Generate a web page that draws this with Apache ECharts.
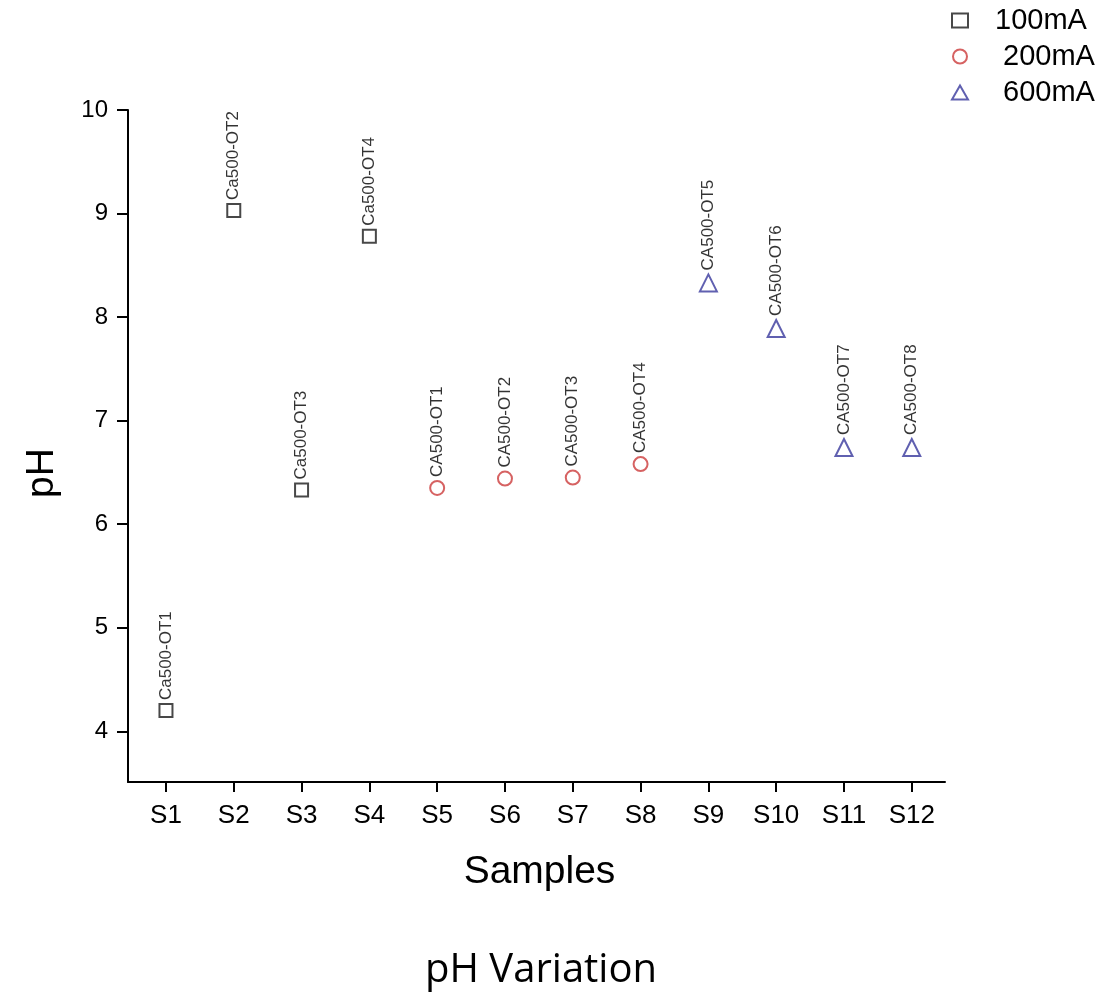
<!DOCTYPE html>
<html>
<head>
<meta charset="utf-8">
<script src="https://cdn.jsdelivr.net/npm/echarts@6/dist/echarts.min.js"></script>
<style>html,body{margin:0;padding:0;background:#fff;}#c{width:1117px;height:994px;}</style>
</head>
<body>
<div id="c"></div>
<script>
const categories = ['S1','S2','S3','S4','S5','S6','S7','S8','S9','S10','S11','S12'];
const yTicks = [4,5,6,7,8,9,10];
// [sample index (1-based), pH, label]
const s100 = [[1,4.20,'Ca500-OT1'],[2,9.03,'Ca500-OT2'],[3,6.33,'Ca500-OT3'],[4,8.78,'Ca500-OT4']];
const s200 = [[5,6.35,'CA500-OT1'],[6,6.44,'CA500-OT2'],[7,6.45,'CA500-OT3'],[8,6.58,'CA500-OT4']];
const s600 = [[9,8.33,'CA500-OT5'],[10,7.89,'CA500-OT6'],[11,6.74,'CA500-OT7'],[12,6.74,'CA500-OT8']];
const seriesNames = ['100mA','200mA','600mA'];

const font = 'Liberation Sans, Arial, sans-serif';
const chart = echarts.init(document.getElementById('c'));
function mk(name, data, symbol, size, color){
  return {
    name: name, type: 'scatter', symbol: symbol, symbolSize: size,
    itemStyle: {color: color, borderColor: color, borderWidth: 1.2},
    data: data.map(d => ({value: [d[0], d[1]], name: d[2]})),
    label: {
      show: true, position: 'top', rotate: 90, align: 'left', verticalAlign: 'middle',
      distance: 3, formatter: p => p.name, color: '#000', fontSize: 17, fontFamily: font
    }
  };
}
chart.setOption({
  animation: false,
  backgroundColor: '#fff',
  title: {
    text: 'pH Variation', left: 420, top: 946,
    textStyle: {fontSize: 40, fontWeight: 'normal', fontFamily: 'Open Sans, Noto Sans, sans-serif', color: '#000'}
  },
  legend: {
    orient: 'vertical', left: 946, top: 1, itemGap: 7, itemWidth: 16, itemHeight: 14,
    data: seriesNames,
    formatter: n => n === '100mA' ? n : ' ' + n,
    textStyle: {fontSize: 29, fontFamily: font, color: '#000', padding: [0,0,0,22]}
  },
  grid: {left: 128, top: 110, right: 172, bottom: 212},
  xAxis: {
    type: 'value', min: 0.44, max: 12.49,
    name: 'Samples', nameLocation: 'middle', nameGap: 71,
    nameTextStyle: {fontSize: 39, fontFamily: font, color: '#000', padding: [0,0,0,6]},
    splitLine: {show: false},
    axisLine: {lineStyle: {color: '#000', width: 2}},
    axisTick: {customValues: categories.map((c,i)=>i+1), length: 10, lineStyle: {color: '#000', width: 2}},
    axisLabel: {customValues: categories.map((c,i)=>i+1), formatter: v => categories[Math.round(v)-1] || '',
      fontSize: 26, fontFamily: font, color: '#000', margin: 21}
  },
  yAxis: {
    type: 'value', min: 3.51, max: 10,
    name: 'pH', nameLocation: 'middle', nameGap: 66,
    nameTextStyle: {fontSize: 39, fontFamily: font, color: '#000', padding: [0,54,0,0]},
    splitLine: {show: false},
    axisLine: {show: true, lineStyle: {color: '#000', width: 2}},
    axisTick: {show: true, customValues: yTicks, length: 11, lineStyle: {color: '#000', width: 2}},
    axisLabel: {customValues: yTicks, fontSize: 24, fontFamily: font, color: '#000', margin: 20}
  },
  series: [
    mk('100mA', s100, 'emptyRect', 13, '#1a1a1a'),
    mk('200mA', s200, 'emptyCircle', 14, '#cc3b3b'),
    mk('600mA', s600, 'emptyTriangle', 17, '#38389c')
  ]
});
</script>
</body>
</html>
